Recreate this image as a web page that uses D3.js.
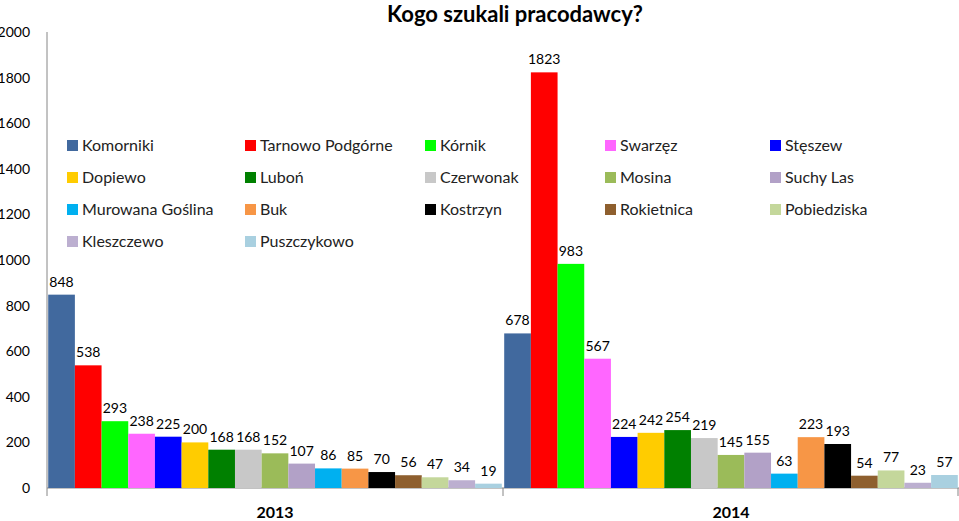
<!DOCTYPE html>
<html><head><meta charset="utf-8">
<script src="https://cdn.jsdelivr.net/npm/d3@7"></script>
<style>body{margin:0;background:#fff}svg{font-family:Lato,"Open Sans",sans-serif}</style>
</head><body><div id="chart"></div>
<script>
const width = 959, height = 521;
const years = ["2013", "2014"];
const towns = ["Komorniki","Tarnowo Podgórne","Kórnik","Swarzęz","Stęszew","Dopiewo","Luboń","Czerwonak","Mosina","Suchy Las","Murowana Goślina","Buk","Kostrzyn","Rokietnica","Pobiedziska","Kleszczewo","Puszczykowo"];
const values2013 = [848,538,293,238,225,200,168,168,152,107,86,85,70,56,47,34,19];
const values2014 = [678,1823,983,567,224,242,254,219,145,155,63,223,193,54,77,23,57];
const colors = ["#41699E","#FF0000","#00FF00","#FF66FF","#0000FF","#FFCC00","#008000","#C8C8C8","#9BBB59","#B2A1C7","#00B0F0","#F79646","#000000","#8E5F2E","#C4D79B","#BCAFD0","#A9D0E0"];
const yTicks = [0,200,400,600,800,1000,1200,1400,1600,1800,2000];

const svg = d3.select("#chart").append("svg").attr("width", width).attr("height", height);
const plotL = 47, plotR = 959, plotT = 32, plotB = 488;

const x0 = d3.scaleBand().domain(years).range([plotL, plotR]).paddingInner(0).paddingOuter(0);
const x1 = d3.scaleBand().domain(towns).range([0, x0.bandwidth()]).paddingOuter(0.045);
const y = d3.scaleLinear().domain([0, 2000]).range([plotB, plotT]);

// axes
svg.append("line").attr("x1", plotL).attr("x2", plotL).attr("y1", plotT).attr("y2", plotB).attr("stroke", "#868686");
svg.append("line").attr("x1", plotL).attr("x2", plotR).attr("y1", plotB).attr("y2", plotB).attr("stroke", "#868686");
svg.selectAll("line.sep").data([plotL, x0("2014"), plotR - 1]).enter().append("line")
  .attr("x1", d => d).attr("x2", d => d).attr("y1", plotB).attr("y2", plotB + 8).attr("stroke", "#868686");
svg.selectAll("text.yt").data(yTicks).enter().append("text")
  .attr("x", 30).attr("y", d => y(d) + 5).attr("text-anchor", "end").attr("font-size", 14).text(d => d);
svg.selectAll("text.xt").data(years).enter().append("text")
  .attr("x", d => x0(d) + x0.bandwidth() / 2).attr("y", 518).attr("text-anchor", "middle")
  .attr("font-size", 16).attr("font-weight", "bold").text(d => d);

svg.append("text").attr("x", 515).attr("y", 22).attr("text-anchor", "middle")
  .attr("font-size", 22).attr("font-weight", "bold").text("Kogo szukali pracodawcy?");

const data = [values2013, values2014];
years.forEach((yr, i) => {
  const g = svg.append("g").attr("transform", `translate(${x0(yr)},0)`);
  g.selectAll("rect").data(data[i]).enter().append("rect")
    .attr("x", (d, j) => x1(towns[j])).attr("width", x1.bandwidth())
    .attr("y", d => y(d)).attr("height", d => plotB - y(d))
    .attr("fill", (d, j) => colors[j]);
  g.selectAll("text").data(data[i]).enter().append("text")
    .attr("x", (d, j) => x1(towns[j]) + x1.bandwidth() / 2).attr("y", d => y(d) - 8)
    .attr("text-anchor", "middle").attr("font-size", 14).text(d => d);
});

// legend
const legX = [67, 245, 425, 605, 770];
const leg = svg.selectAll("g.leg").data(towns).enter().append("g")
  .attr("transform", (d, i) => `translate(${legX[i % 5]},${146 + Math.floor(i / 5) * 32})`);
leg.append("rect").attr("x", 0).attr("y", -6).attr("width", 11).attr("height", 11).attr("fill", (d, i) => colors[i]);
leg.append("text").attr("x", 15).attr("y", 5).attr("font-size", 16).attr("fill", "#222").text(d => d);
</script></body></html>
